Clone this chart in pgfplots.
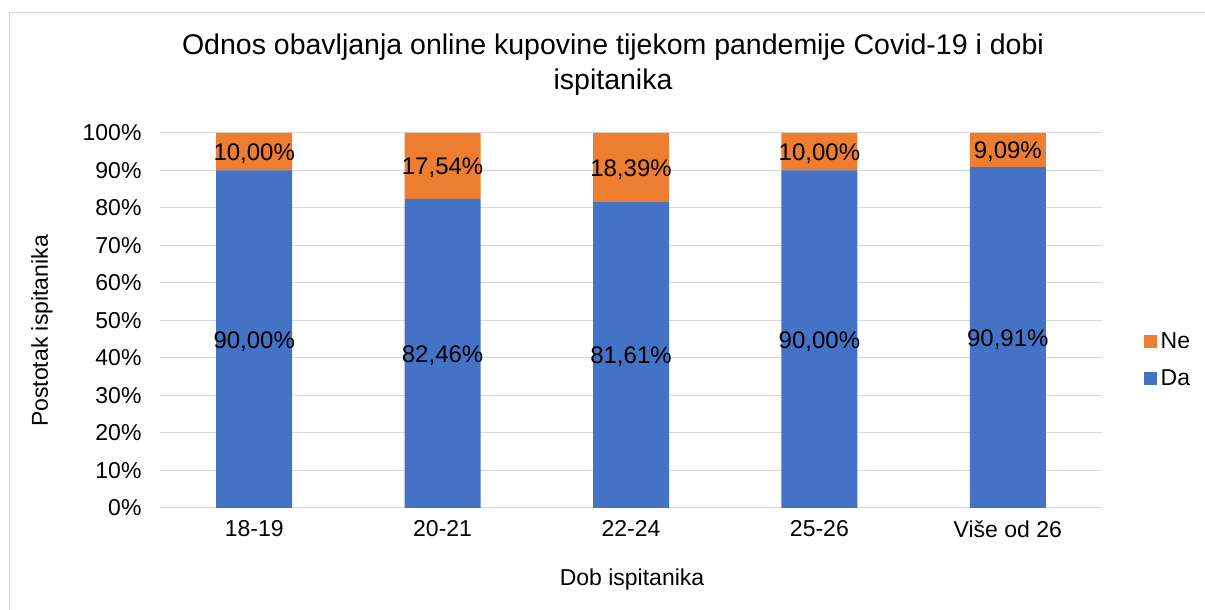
\documentclass[border=0pt]{standalone}
\usepackage{pgfplots}
\pgfplotsset{compat=1.18}
\usepackage{pgfplotstable}
\usepackage{fontspec}
\setmainfont{Liberation Sans}
\definecolor{cblue}{HTML}{4472C4}
\definecolor{corange}{HTML}{ED7D31}
\definecolor{cgrid}{HTML}{D9D9D9}

\pgfplotstableread{
x da ne
0 90.00 10.00
1 82.46 17.54
2 81.61 18.39
3 90.00 10.00
4 90.91 9.09
}\data

\pgfplotstableread{
x y lab
0 45.000 90.00
1 41.230 82.46
2 40.805 81.61
3 45.000 90.00
4 45.455 90.91
}\dalabels

\pgfplotstableread{
x y lab
0 95.000 10.00
1 91.230 17.54
2 90.805 18.39
3 95.000 10.00
4 95.455 9.09
}\nelabels

\begin{document}
\begin{tikzpicture}
\useasboundingbox (0,0) rectangle (1205pt,610pt);
\draw[cgrid, line width=1pt] (9pt,-5pt) -- (9pt,597pt) -- (1210pt,597pt);
\begin{axis}[
  at={(160pt,102pt)}, anchor=south west,
  scale only axis, width=942pt, height=375pt,
  ybar stacked, bar width=76pt,
  xmin=-0.5, xmax=4.5, ymin=0, ymax=100,
  xtick=data, xticklabels={18-19,20-21,22-24,25-26,Više od 26},
  ytick={0,10,...,100},
  yticklabel={\pgfmathprintnumber{\tick}\%},
  /pgf/number format/assume math mode=true,
  major tick length=0pt,
  ymajorgrids, grid style={cgrid, line width=1pt},
  axis line style={draw=none},
  axis x line*=bottom,
  x axis line style={draw=cgrid, line width=1pt},
  tick label style={font=\fontsize{23}{26}\selectfont},
  yticklabel style={xshift=-15pt},
  xticklabel style={yshift=-9pt},
  legend style={at={(1.044,0.395)}, anchor=west, draw=none, fill=none,
    font=\fontsize{23}{26}\selectfont, row sep=16pt, inner sep=0pt,
    nodes={inner xsep=4pt}},
  legend cell align=left,
  reverse legend,
  legend image code/.code={\fill[#1] (0pt,-6.5pt) rectangle (13pt,6.5pt);},
]
\addplot[fill=cblue, draw=none] table[x=x, y=da] {\data};
\addlegendentry{Da}
\addplot[fill=corange, draw=none] table[x=x, y=ne] {\data};
\addlegendentry{Ne}
\end{axis}
\begin{axis}[
  at={(160pt,102pt)}, anchor=south west,
  scale only axis, width=942pt, height=375pt,
  xmin=-0.5, xmax=4.5, ymin=0, ymax=100,
  hide axis,
  nodes near coords={\pgfmathprintnumber[fixed,fixed zerofill,precision=2,use comma,assume math mode=true]{\pgfplotspointmeta}\%},
  nodes near coords align=center,
  every node near coord/.append style={font=\fontsize{24}{26}\selectfont, inner sep=0pt, anchor=center, yshift=-2pt},
  point meta=explicit,
]
\addplot[only marks, mark=none] table[x=x, y=y, meta=lab] {\dalabels};
\addplot[only marks, mark=none] table[x=x, y=y, meta=lab] {\nelabels};
\end{axis}
\node[font=\fontsize{28.5}{35}\selectfont, align=center] at (613pt,545pt) {Odnos obavljanja online kupovine tijekom pandemije Covid-19 i dobi\\ispitanika};
\node[font=\fontsize{23}{26}\selectfont] at (632pt,30pt) {Dob ispitanika};
\node[font=\fontsize{23}{26}\selectfont, rotate=90] at (42pt,279pt) {Postotak ispitanika};
\end{tikzpicture}
\end{document}
